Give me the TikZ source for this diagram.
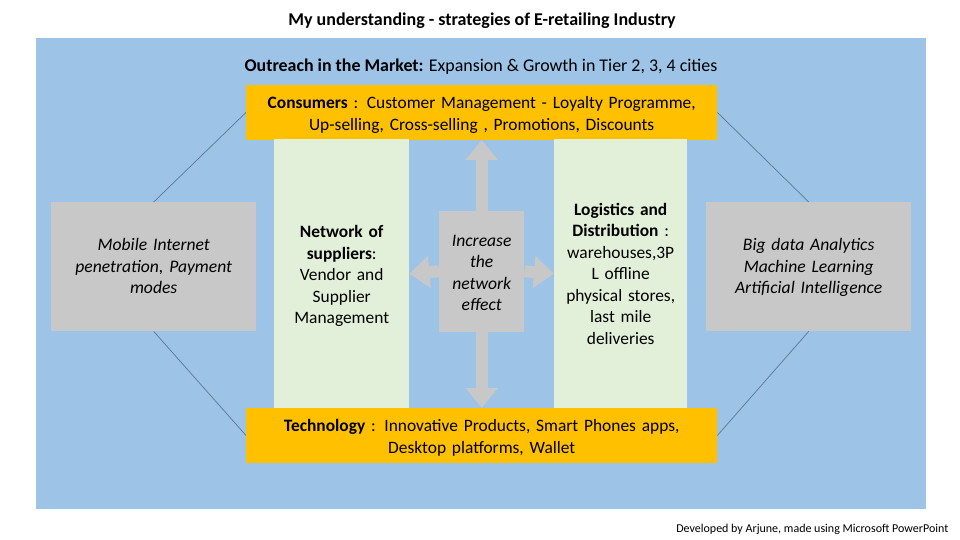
\documentclass[tikz,border=0pt]{standalone}
\usepackage{fontspec}
\setmainfont{Carlito}
\usepackage{tikz}
\usetikzlibrary{positioning}
\usetikzlibrary{arrows.meta}
\definecolor{skyfill}{RGB}{157,195,230}
\definecolor{goldfill}{RGB}{255,192,0}
\definecolor{greyfill}{RGB}{200,200,200}
\definecolor{paleGreen}{RGB}{226,240,217}
\definecolor{linkline}{RGB}{90,120,150}
\tikzset{
  box/.style={anchor=north west,inner sep=0pt,align=center,font=\fontsize{17.4}{21.5}\selectfont},
  goldbox/.style={box,fill=goldfill,minimum width=471pt,minimum height=54.5pt,text width=465pt,font=\fontsize{17.4}{22}\selectfont,execute at begin node={\rule{0pt}{17pt}}},
  greenbox/.style={box,fill=paleGreen,minimum height=269pt},
  greybox/.style={box,fill=greyfill,minimum width=205pt,minimum height=129pt,text width=190pt,font=\fontsize{17.6}{21.5}\selectfont\itshape,execute at begin node={\rule{0pt}{16pt}},execute at end node={\rule[-4.5pt]{0pt}{4.5pt}}},
  hubbox/.style={box,fill=greyfill,minimum width=85pt,minimum height=121pt,text width=82pt,font=\fontsize{17.6}{21.5}\selectfont\itshape,execute at begin node={\rule{0pt}{15pt}}},
  link/.style={linkline,line width=.7pt},
  bigarrow/.style={greyfill,line width=12pt,-{Triangle[width=31pt,length=20pt]}}
}
\begin{document}
\begin{tikzpicture}[x=1pt,y=-1pt]
        \useasboundingbox (0,0) rectangle (960,540);
        \fill[skyfill] (36,38) rectangle (926,509);

        \node[font=\fontsize{18}{20}\selectfont\bfseries] (title) at (482,21) {My understanding - strategies of E-retailing Industry};
        \node[font=\fontsize{17.9}{20}\selectfont] (outreach) at (481,67) {\textbf{Outreach in the Market:} Expansion \& Growth in Tier 2, 3, 4 cities};

        \node[goldbox] (consumers) at (246,85) {\textbf{Consumers} : Customer Management - Loyalty Programme,\\Up-selling, Cross-selling , Promotions, Discounts};
        \node[goldbox] (technology) at (246,408) {\textbf{Technology} : Innovative Products, Smart Phones apps,\\Desktop platforms, Wallet};

        \node[greenbox,minimum width=135pt,text width=130pt,execute at begin node={\rule{0pt}{17pt}}] (suppliers) at (274,139) {\textbf{Network of}\\\textbf{suppliers}:\\Vendor and\\Supplier\\Management};
        \node[greenbox,minimum width=133pt,text width=130pt] (logistics) at (554,139) {\textbf{Logistics and}\\\textbf{Distribution} :\\warehouses,3P\\L offline\\physical stores,\\last mile\\deliveries};

        \node[greybox] (mobile) at (51,202) {Mobile Internet\\penetration, Payment\\modes};
        \node[greybox] (bigdata) at (706,202) {Big data Analytics\\Machine Learning\\Artificial Intelligence};

        \node[hubbox] (hub) at (439,210.5) {Increase\\the\\network\\effect};

        \draw[bigarrow] (hub.north) -- (consumers.south);
        \draw[bigarrow] (hub.south) -- (technology.north);
        \draw[bigarrow] (hub.west) -- (suppliers.east);
        \draw[bigarrow] (hub.east) -- (logistics.west);

        \draw[link] (consumers.west) -- (mobile.north);
        \draw[link] (technology.west) -- (mobile.south);
        \draw[link] (consumers.east) -- (bigdata.north);
        \draw[link] (technology.east) -- (bigdata.south);

        \node[font=\fontsize{12}{14}\selectfont,anchor=east,inner sep=0pt] (credit) at (948.5,529) {Developed by Arjune, made using Microsoft PowerPoint};
      \end{tikzpicture}
\end{document}
